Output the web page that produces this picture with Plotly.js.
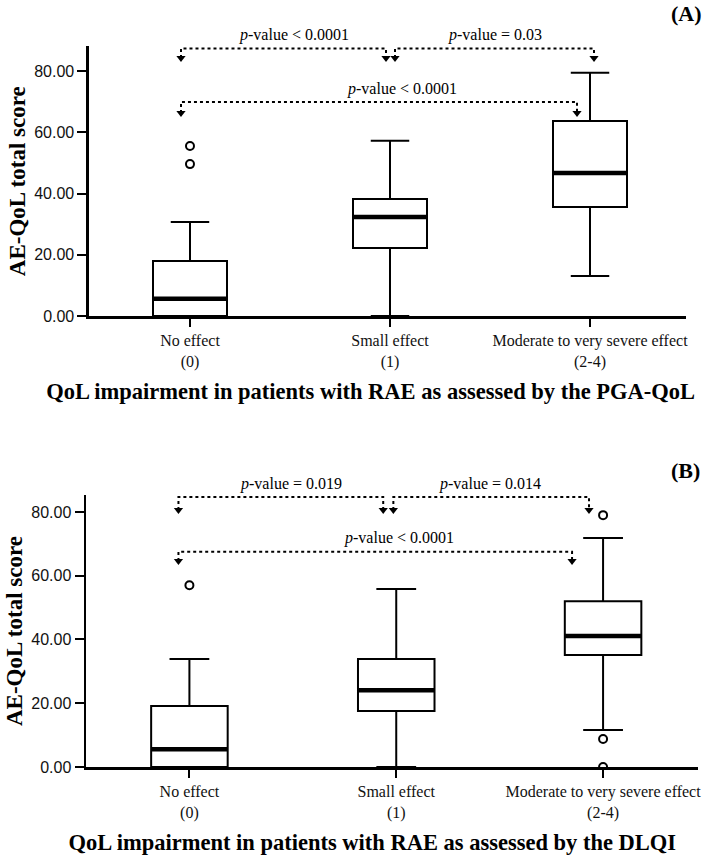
<!DOCTYPE html>
<html>
<head>
<meta charset="utf-8">
<script src="https://cdn.plot.ly/plotly-3.0.1.min.js"></script>
<style>html,body{margin:0;padding:0;background:#fff}#chart{width:709px;height:859px}</style>
</head>
<body>
<div id="chart"></div>
<script>
// ---- data ----
var categories = [0, 1, 2];
var tickLabels = ["No effect<br>(0)", "Small effect<br>(1)", "Moderate to very severe effect<br>(2-4)"];

// Panel A: PGA-QoL
var A_lower  = [0, 0, 13.1];
var A_q1     = [0, 22.2, 35.6];
var A_median = [5.6, 32.3, 46.7];
var A_q3     = [18.0, 38.2, 63.7];
var A_upper  = [30.7, 57.2, 79.4];
var A_out_x  = [0, 0];
var A_out_y  = [55.5, 49.6];
var A_pvals  = ["<i>p</i>-value < 0.0001", "<i>p</i>-value = 0.03", "<i>p</i>-value < 0.0001"];

// Panel B: DLQI
var B_lower  = [0, 0, 11.6];
var B_q1     = [0, 17.6, 35.1];
var B_median = [5.6, 24.1, 41.1];
var B_q3     = [19.1, 33.9, 52.0];
var B_upper  = [33.9, 55.8, 71.8];
var B_out_x  = [0, 2, 2, 2];
var B_out_y  = [57.0, 79.0, 8.8, 0];
var B_pvals  = ["<i>p</i>-value = 0.019", "<i>p</i>-value = 0.014", "<i>p</i>-value < 0.0001"];

// ---- styling / layout ----
var BOXW = 0.37;
var SERIF = "Liberation Serif, Times New Roman, serif";
var SANS = "Liberation Sans, Arial, sans-serif";
var A_TOP = 88, B_TOP = 85.3;

function boxTrace(xa, ya, q1, med, q3, lo, up) {
  return {type: 'box', x: categories, q1: q1, median: med, q3: q3,
    lowerfence: lo, upperfence: up, width: BOXW, whiskerwidth: 0.52,
    boxpoints: false, xaxis: xa, yaxis: ya, hoverinfo: 'skip',
    line: {color: '#000', width: 2}, fillcolor: 'rgba(255,255,255,0)', showlegend: false};
}
function medianTrace(xa, ya, med) {
  var xs = [], ys = [];
  for (var i = 0; i < categories.length; i++) {
    xs.push(categories[i] - BOXW / 2, categories[i] + BOXW / 2, null);
    ys.push(med[i], med[i], null);
  }
  return {type: 'scatter', mode: 'lines', x: xs, y: ys, xaxis: xa, yaxis: ya,
    line: {color: '#000', width: 4.5}, showlegend: false, hoverinfo: 'skip'};
}
function outTrace(xa, ya, ox, oy) {
  return {type: 'scatter', mode: 'markers', x: ox, y: oy, xaxis: xa, yaxis: ya,
    marker: {symbol: 'circle-open', size: 8, color: '#000', line: {width: 2, color: '#000'}},
    showlegend: false, hoverinfo: 'skip'};
}

// bracket geometry (layout positions)
function brackets(xa, ya, list) {
  var shapes = [], mx = [], my = [];
  list.forEach(function (b) {
    shapes.push({type: 'path', xref: xa, yref: ya,
      path: 'M' + b[0] + ',' + b[3] + ' L' + b[0] + ',' + b[2] + ' L' + b[1] + ',' + b[2] + ' L' + b[1] + ',' + b[3],
      line: {color: '#000', width: 2, dash: 'dot'}});
    mx.push(b[0], b[1]); my.push(b[3], b[3]);
  });
  return {shapes: shapes, markers: {type: 'scatter', mode: 'markers', x: mx, y: my,
    xaxis: xa, yaxis: ya, cliponaxis: false,
    marker: {symbol: 'triangle-down', size: 8, color: '#000'}, showlegend: false, hoverinfo: 'skip'}};
}

var brA = brackets('x', 'y', [
  [categories[0] - 0.045, categories[1] - 0.02, 87.3, 84.2],
  [categories[1] + 0.025, categories[2] + 0.02, 87.3, 84.2],
  [categories[0] - 0.045, categories[2] - 0.065, 69.9, 66.3]
]);
var brB = brackets('x2', 'y2', [
  [categories[0] - 0.053, categories[1] - 0.063, 84.7, 80.6],
  [categories[1] - 0.014, categories[2] - 0.068, 84.7, 80.6],
  [categories[0] - 0.053, categories[2] - 0.15, 67.5, 64.6]
]);

var data = [
  boxTrace('x', 'y', A_q1, A_median, A_q3, A_lower, A_upper),
  medianTrace('x', 'y', A_median),
  outTrace('x', 'y', A_out_x, A_out_y),
  brA.markers,
  boxTrace('x2', 'y2', B_q1, B_median, B_q3, B_lower, B_upper),
  medianTrace('x2', 'y2', B_median),
  outTrace('x2', 'y2', B_out_x, B_out_y),
  brB.markers
];

function pad(n) { var s = ''; for (var i = 0; i < n; i++) s += '&nbsp;'; return s; }

function xAxis(domain, range, anchor, title) {
  return {domain: domain, range: range, anchor: anchor, tickvals: categories, ticktext: tickLabels,
    ticks: 'outside', ticklen: 8, tickwidth: 2, tickcolor: '#000', showline: true, linewidth: 2.5,
    linecolor: '#000', showgrid: false, zeroline: false, fixedrange: true,
    tickfont: {family: SERIF, size: 16, color: '#111'},
    title: {text: title, font: {family: SERIF, size: 22.5, color: '#000'}, standoff: 14}};
}
function yAxis(domain, range, anchor) {
  return {domain: domain, range: range, anchor: anchor, tickvals: [0, 20, 40, 60, 80], tickformat: '.2f',
    ticks: 'outside', ticklen: 9, tickwidth: 2, tickcolor: '#000', showline: true, linewidth: 2.5,
    linecolor: '#000', showgrid: false, zeroline: false, fixedrange: true,
    tickfont: {family: SANS, size: 16, color: '#111'},
    title: {text: '<b>AE-QoL total score</b>', font: {family: SERIF, size: 23, color: '#000'}, standoff: 2}};
}

function pAnn(xref, yref, x, y, top, text) {
  return {xref: xref, yref: yref + ' domain', x: x, y: y / top, text: text, showarrow: false,
    font: {family: SERIF, size: 16, color: '#000'}, xanchor: 'center', yanchor: 'middle'};
}

var layout = {
  width: 709, height: 859,
  margin: {l: 0, r: 0, t: 0, b: 0},
  paper_bgcolor: '#fff', plot_bgcolor: '#fff',
  showlegend: false,
  xaxis: xAxis([0.1255, 0.9676], [-0.505, 2.48], 'y', '<b>QoL impairment in patients with RAE as assessed by the PGA-QoL</b>' + pad(6)),
  yaxis: yAxis([0.6321, 0.9459], [0, A_TOP], 'x'),
  xaxis2: xAxis([0.1213, 0.9845], [-0.5, 2.459], 'y2', '<b>QoL impairment in patients with RAE as assessed by the DLQI</b>' + pad(7)),
  yaxis2: yAxis([0.1071, 0.4237], [0, B_TOP], 'x2'),
  shapes: brA.shapes.concat(brB.shapes),
  annotations: [
    pAnn('x', 'y', 0.52, 91.8, A_TOP, A_pvals[0]),
    pAnn('x', 'y', 1.525, 91.8, A_TOP, A_pvals[1]),
    pAnn('x', 'y', 1.06, 74.1, A_TOP, A_pvals[2]),
    pAnn('x2', 'y2', 0.49, 88.8, B_TOP, B_pvals[0]),
    pAnn('x2', 'y2', 1.454, 88.8, B_TOP, B_pvals[1]),
    pAnn('x2', 'y2', 1.015, 71.8, B_TOP, B_pvals[2]),
    {xref: 'paper', yref: 'paper', x: 686 / 709, y: 1 - 13 / 859, text: '<b>(A)</b>', showarrow: false,
      font: {family: SERIF, size: 22, color: '#000'}, xanchor: 'center', yanchor: 'middle'},
    {xref: 'paper', yref: 'paper', x: 685 / 709, y: 1 - 470 / 859, text: '<b>(B)</b>', showarrow: false,
      font: {family: SERIF, size: 22, color: '#000'}, xanchor: 'center', yanchor: 'middle'}
  ]
};

Plotly.newPlot('chart', data, layout, {staticPlot: true, displayModeBar: false});
</script>
</body>
</html>
